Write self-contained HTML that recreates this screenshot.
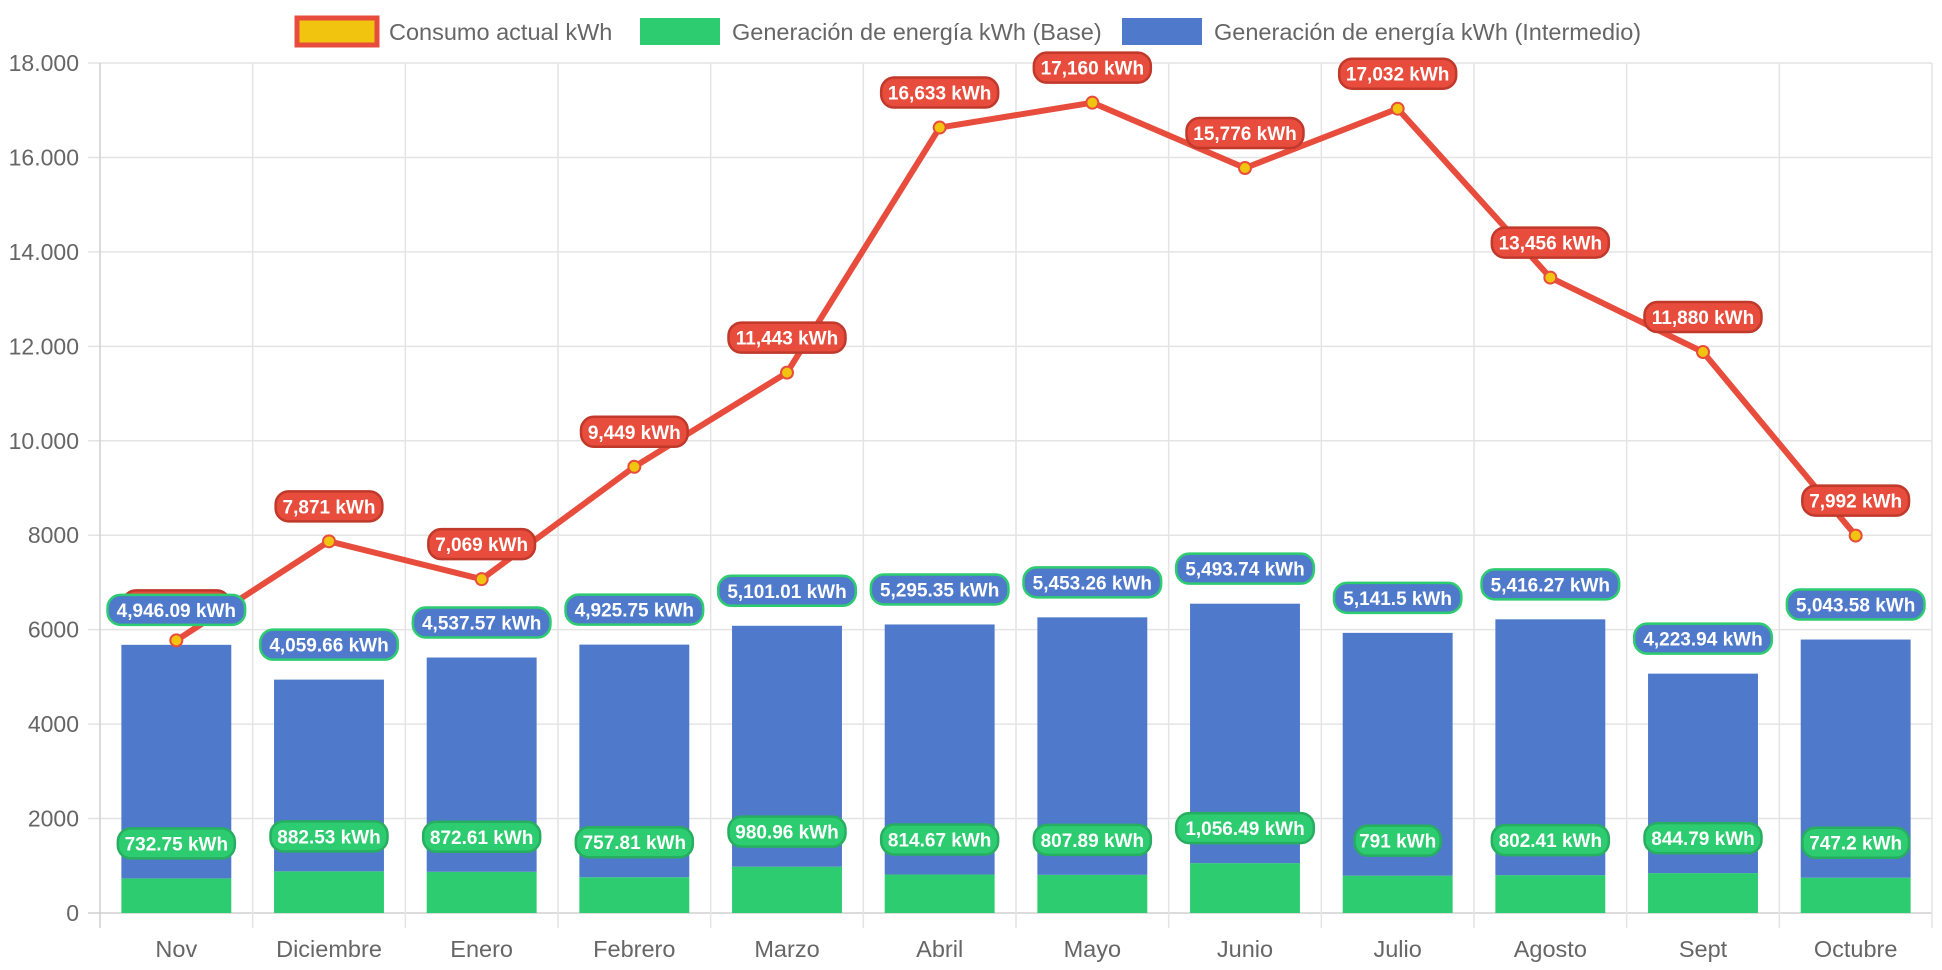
<!DOCTYPE html>
<html><head><meta charset="utf-8"><style>
html,body{margin:0;padding:0;background:#fff;}
svg{display:block;font-family:"Liberation Sans",Arial,sans-serif;}
</style></head><body>
<svg id="chart" width="1942" height="970" viewBox="0 0 1942 970" xmlns="http://www.w3.org/2000/svg">
<g id="legend">
 <g>
  <rect x="297" y="18" width="80" height="27" fill="#f1c40f" stroke="#e74c3c" stroke-width="5"/>
  <text x="389" y="40" font-size="23.5" fill="#666">Consumo actual kWh</text>
 </g>
 <g>
  <rect x="640" y="18" width="80" height="27" fill="#2ecc71"/>
  <text x="732" y="40" font-size="23.5" fill="#666">Generación de energía kWh (Base)</text>
 </g>
 <g>
  <rect x="1122" y="18" width="80" height="27" fill="#4f7acb"/>
  <text x="1214" y="40" font-size="23.5" fill="#666">Generación de energía kWh (Intermedio)</text>
 </g>
</g>
<g id="grid"></g><g id="bars"></g><g id="line"></g><g id="labels"></g>
</svg>
<script>
const categories=["Nov","Diciembre","Enero","Febrero","Marzo","Abril","Mayo","Junio","Julio","Agosto","Sept","Octubre"];
const consumo=[5773,7871,7069,9449,11443,16633,17160,15776,17032,13456,11880,7992];
const base=[732.75,882.53,872.61,757.81,980.96,814.67,807.89,1056.49,791,802.41,844.79,747.2];
const intermedio=[4946.09,4059.66,4537.57,4925.75,5101.01,5295.35,5453.26,5493.74,5141.5,5416.27,4223.94,5043.58];
const yTicks=[0,2000,4000,6000,8000,10000,12000,14000,16000,18000];
const yTickLabels=["0","2000","4000","6000","8000","10.000","12.000","14.000","16.000","18.000"];

const NS="http://www.w3.org/2000/svg";
const L=100,R=1932,T=63,B=913,YMAX=18000;
const cw=(R-L)/categories.length;
const x=i=>L+cw*(i+0.5);
const y=v=>B-(v/YMAX)*(B-T);
function mk(tag,attrs,parent){const e=document.createElementNS(NS,tag);for(const k in attrs)e.setAttribute(k,attrs[k]);parent.appendChild(e);return e;}
const grid=document.getElementById('grid'),bars=document.getElementById('bars'),line=document.getElementById('line'),labels=document.getElementById('labels');

yTicks.forEach((t,i)=>{
 const g=mk('line',{x1:88,x2:R,y1:y(t),y2:y(t),stroke:i===0?'#d0d0d0':'#e4e4e4','stroke-width':1.5},grid);
 
 
 const tx=mk('text',{x:79,y:y(t)+8,'text-anchor':'end','font-size':23,fill:'#666'},grid);
 tx.textContent=yTickLabels[i];
 
 
});
for(let i=0;i<=categories.length;i++){
 const vx=L+cw*i;
 const v=mk('line',{x1:vx,x2:vx,y1:T,y2:928,stroke:i===0?'#cfcfcf':'#e4e4e4','stroke-width':1.5},grid);
 
 
}
categories.forEach((c,i)=>{
 const tx=mk('text',{x:x(i),y:957,'text-anchor':'middle','font-size':23.5,fill:'#666'},grid);
 tx.textContent=c;
 
 
});
const bw=cw*0.72;
categories.forEach((c,i)=>{
 const b1=mk('rect',{x:x(i)-bw/2,y:y(base[i]),width:bw,height:B-y(base[i]),fill:'#2ecc71'},bars);
 
 
 const top=base[i]+intermedio[i];
 const b2=mk('rect',{x:x(i)-bw/2,y:y(top),width:bw,height:y(base[i])-y(top),fill:'#4f7acb'},bars);
 
 
});
const pts=consumo.map((v,i)=>x(i)+','+y(v)).join(' ');
const pl=mk('polyline',{points:pts,fill:'none',stroke:'#e74c3c','stroke-width':6,'stroke-linejoin':'round'},line);


consumo.forEach((v,i)=>{
 const p=mk('circle',{cx:x(i),cy:y(v),r:6,fill:'#f1c40f',stroke:'#e74c3c','stroke-width':2},line);
 
 
});
function fmt(v){return v.toLocaleString('en-US',{maximumFractionDigits:2})+' kWh';}
function pill(cx,cy,txt,bg,border,name){
 const g=mk('g',{},labels);
 
 
 const w=txt.length*10.3+14;
 mk('rect',{x:cx-w/2,y:cy-15,width:w,height:30,rx:13,fill:bg,stroke:border,'stroke-width':2.5},g);
 const t=mk('text',{x:cx,y:cy+7,'text-anchor':'middle','font-size':19,'font-weight':'bold',fill:'#fff'},g);
 t.textContent=txt;
}
consumo.forEach((v,i)=>pill(x(i),y(v)-35,fmt(v),'#e74c3c','#c0392b','consumo-label'));
intermedio.forEach((v,i)=>pill(x(i),y(base[i]+v)-35,fmt(v),'#4f7acb','#2ecc71','intermedio-label'));
base.forEach((v,i)=>pill(x(i),y(v)-35,fmt(v),'#2ecc71','#27ae60','base-label'));
</script>
</body></html>
